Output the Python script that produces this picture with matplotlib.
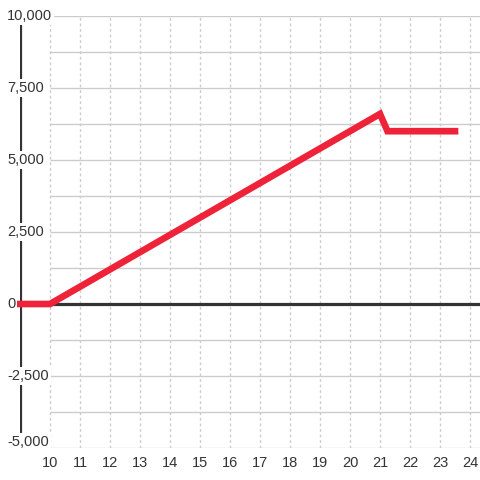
import matplotlib
matplotlib.use("Agg")
import matplotlib.pyplot as plt
import numpy as np

x_vals = [9, 10, 21, 21.25, 23.5]
y_vals = [0, 0, 6600, 6000, 6000]
x_ticks = list(range(10, 25))
y_ticks = [10000, 7500, 5000, 2500, 0, -2500, -5000]
y_tick_labels = ["10,000", "7,500", "5,000", "2,500", "0", "-2,500", "-5,000"]
y_grid = list(np.arange(-5000, 10001, 1250))

plt.rcParams['font.family'] = ['Liberation Sans', 'DejaVu Sans']

fig = plt.figure(figsize=(4.8, 4.8), dpi=100)
ax = fig.add_axes([20/480, 32/480, 460/480, 432/480])
xmin, xmax = 9, 9 + 460/30
ax.set_xlim(xmin, xmax)
ax.set_ylim(-5000, 10000)
for s in ax.spines.values():
    s.set_visible(False)

# grid
for g in y_grid:
    ax.plot([10, xmax], [g, g], color='#cccccc', lw=1, zorder=1, solid_capstyle='butt')
for xt in x_ticks:
    ax.axvline(xt, color='#cccccc', lw=1, ls=(0, (2, 2)), zorder=1)

# zero line and y axis line
ax.plot([10, xmax], [0, 0], color='#333333', lw=2.3, zorder=2, solid_capstyle='butt')
ax.axvline(9, color='#333333', lw=2.3, zorder=2)

# data
ax.plot(x_vals, y_vals, color='#ee2238', lw=4.8, zorder=3,
        solid_capstyle='projecting', solid_joinstyle='miter', clip_on=False)

# y labels
ax.set_yticks([])
for v, lab in zip(y_ticks, y_tick_labels):
    yy = v if v != -5000 else -4790
    ax.text(9 - 13/30, yy, lab, ha='left', va='center', fontsize=10.5,
            color='#333333', zorder=5, clip_on=False,
            bbox=dict(boxstyle='square,pad=0.15', fc='white', ec='none'))

ax.set_xticks(x_ticks)
ax.set_xticklabels([str(t) for t in x_ticks])
ax.tick_params(axis='x', length=0, pad=6, labelsize=10.5, labelcolor='#333333')

fig.savefig('out.png', dpi=100)
